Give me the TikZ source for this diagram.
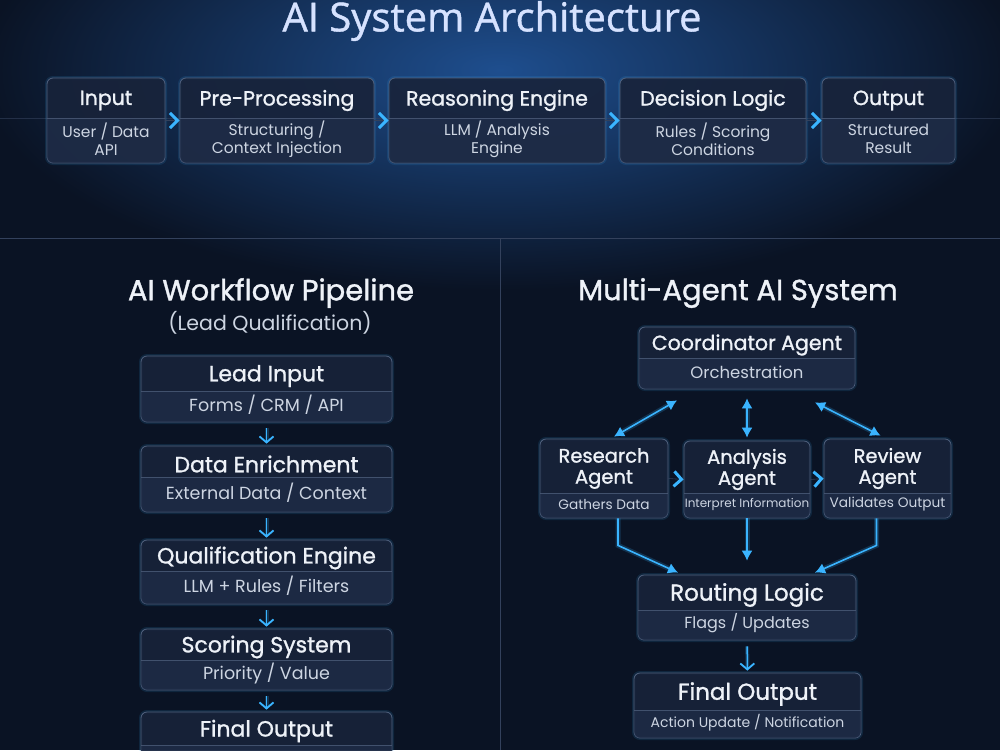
\documentclass[tikz,border=0pt]{standalone}
\usepackage{fontspec}
\setmainfont{Poppins}
\newfontfamily\medfont{Poppins}[FakeBold=1.2]
\newfontfamily\titlefont{Open Sans}[FakeBold=1]
\usetikzlibrary{arrows.meta,calc}
\definecolor{bg}{HTML}{0A1324}
\definecolor{glowblue}{HTML}{1E4E8E}
\definecolor{boxfill}{HTML}{18233A}
\definecolor{boxedge}{HTML}{52627F}
\definecolor{lowfillc}{HTML}{22314E}
\definecolor{ttlc}{HTML}{EEF2F8}
\definecolor{subc}{HTML}{CDD5E2}
\definecolor{cyanc}{HTML}{3AB4FF}
\definecolor{titlec}{HTML}{D6E2FF}
\definecolor{linec}{HTML}{33415C}
\newcommand\panel[8]{%
  \pgfmathsetmacro\pw{#4-#2}%
  \pgfmathsetmacro\ph{#5-#3}%
  \pgfmathsetmacro\pcx{(#2+#4)/2}%
  \pgfmathsetmacro\pcy{(#3+#5)/2}%
  \pgfmathsetmacro\pty{(#3+#6)/2+2.5}%
  \pgfmathsetmacro\psy{(#6+#5)/2-1.5}%
  \draw[boxglow] (#2,#3) rectangle (#4,#5);
  \node[panelbox, minimum width=\pw pt, minimum height=\ph pt] (#1) at (\pcx,\pcy) {};
  \begin{scope}
    \clip[rounded corners=6pt] (#2,#3) rectangle (#4,#5);
    \fill[lowfill] (#2,#6) rectangle (#4,#5);
  \end{scope}
  \draw[divline] (#2,#6) -- (#4,#6);
  \node[ttl] (#1-t) at (\pcx,\pty) {#7};
  \node[subt] (#1-s) at (\pcx,\psy) {#8};
}
\begin{document}
\begin{tikzpicture}[x=1pt,y=-1pt,
  panelbox/.style={draw=boxedge, line width=0.8pt, fill=boxfill, fill opacity=0.9, rounded corners=6pt, inner sep=0pt},
  boxglow/.style={draw=cyanc, line width=4pt, opacity=0.12, rounded corners=6pt},
  lowfill/.style={fill=lowfillc, fill opacity=0.55},
  divline/.style={draw=boxedge, line width=0.5pt, opacity=0.7},
  ttl/.style={text=ttlc, font=\medfont\fontsize{20.5}{22}\selectfont, align=center, inner sep=0pt},
  subt/.style={text=subc, font=\fontsize{15.5}{18}\selectfont, align=center, inner sep=0pt},
  sect/.style={text=ttlc, font=\medfont\fontsize{29}{32}\selectfont, inner sep=0pt},
  chev/.style={draw=linec, line width=0.6pt, -{Straight Barb[length=7.5pt,width=15pt,line width=3pt,color=cyanc]}},
  downarr/.style={draw=cyanc, line width=1.5pt, shorten <=6pt, shorten >=2pt, -{Straight Barb[length=6pt,width=14pt,line width=1.8pt]}, preaction={draw=cyanc, line width=4pt, opacity=0.2}},
  dblarr/.style={draw=cyanc, line width=1.6pt, {Latex[length=10pt,width=11pt]}-{Latex[length=10pt,width=11pt]}, preaction={draw=cyanc, line width=5pt, opacity=0.2}},
  onearr/.style={draw=cyanc, line width=1.6pt, -{Latex[length=10pt,width=11pt]}, preaction={draw=cyanc, line width=5pt, opacity=0.2}},
  sepline/.style={draw=linec, line width=0.8pt}
]
\clip (0,0) rectangle (1000,750);
\fill[bg] (0,0) rectangle (1000,750);
\shade[inner color=glowblue, outer color=bg] (500,70) ellipse (520 and 220);
\draw[sepline, opacity=0.6] (0,118) -- (1000,118);

% title
\node[font=\titlefont\fontsize{40}{44}\selectfont, text=titlec, inner sep=0pt] (title) at (492,21) {AI System Architecture};

% top row
\panel{in}{47}{78}{165}{163}{118}{Input}{User / Data\\API}
\panel{pre}{180}{78}{374}{163}{118}{Pre-Processing}{Structuring /\\Context Injection}
\panel{rea}{389}{78}{605}{163}{118}{Reasoning Engine}{LLM / Analysis\\Engine}
\panel{dec}{620}{78}{806}{163}{118}{Decision Logic}{Rules / Scoring\\Conditions}
\panel{out}{822}{78}{955}{163}{118}{Output}{Structured\\Result}
\draw[chev] (in.east) -- (pre.west);
\draw[chev] (pre.east) -- (rea.west);
\draw[chev] (rea.east) -- (dec.west);
\draw[chev] (dec.east) -- (out.west);

% separators
\draw[sepline] (0,238) -- (1000,238);
\draw[sepline] (500,238) -- (500,750);

% left section
\node[sect] (lsec) at (271,293) {AI Workflow Pipeline};
\node[text=subc, font=\fontsize{20.5}{22}\selectfont, inner sep=0pt] (lsub) at (270,323) {(Lead Qualification)};
\begin{scope}[ttl/.append style={font=\medfont\fontsize{22}{24}\selectfont}, subt/.append style={font=\fontsize{17.5}{20}\selectfont}]
\panel{lead}{141}{356}{392}{422}{391}{Lead Input}{Forms / CRM / API}
\panel{enr}{141}{446}{392}{512}{477}{Data Enrichment}{External Data / Context}
\panel{qual}{141}{540}{392}{604}{571}{Qualification Engine}{LLM + Rules / Filters}
\panel{score}{141}{629}{392}{690}{660}{Scoring System}{Priority / Value}
\panel{lfin}{141}{712}{392}{778}{745}{Final Output}{}
\end{scope}
\draw[downarr] (lead) -- (enr);
\draw[downarr] (enr) -- (qual);
\draw[downarr] (qual) -- (score);
\draw[downarr] (score) -- (lfin);

% right section
\node[sect] (rsec) at (738,293) {Multi-Agent AI System};
\begin{scope}[subt/.append style={font=\fontsize{16.5}{18}\selectfont}]
\panel{coord}{639}{327}{855}{389}{358}{Coordinator Agent}{Orchestration}
\end{scope}
\begin{scope}[ttl/.append style={font=\medfont\fontsize{19.5}{21}\selectfont}, subt/.append style={font=\fontsize{13.7}{14}\selectfont}]
\panel{res}{540}{439}{668}{518}{493}{Research\\Agent}{Gathers Data}
\panel{rev}{824}{439}{951}{518}{493}{Review\\Agent}{Validates Output}
\end{scope}
\begin{scope}[ttl/.append style={font=\medfont\fontsize{19.5}{21}\selectfont}, subt/.append style={font=\fontsize{12}{14}\selectfont}]
\panel{ana}{684}{441}{810}{518}{493}{Analysis\\Agent}{Interpret Information}
\end{scope}
\draw[chev] (res.east) -- (ana.west);
\draw[chev] (ana.east) -- (rev.west);
\draw[dblarr] ([xshift=10pt,yshift=2pt]res.north) -- ([xshift=-70pt,yshift=-11pt]coord.south);
\draw[dblarr] ([yshift=-9pt]coord.south) -- ([yshift=3pt]ana.north);
\draw[dblarr] ([xshift=-7pt,yshift=3pt]rev.north) -- ([xshift=68pt,yshift=-13pt]coord.south);

\begin{scope}[ttl/.append style={font=\medfont\fontsize{23}{25}\selectfont}, subt/.append style={font=\fontsize{16}{18}\selectfont}]
\panel{route}{638}{575}{856}{640}{610}{Routing Logic}{Flags / Updates}
\end{scope}
\begin{scope}[ttl/.append style={font=\medfont\fontsize{23}{25}\selectfont}, subt/.append style={font=\fontsize{14}{16}\selectfont}]
\panel{rfin}{634}{673}{861}{738}{710}{Final Output}{Action Update / Notification}
\end{scope}
\draw[onearr] ([xshift=14pt]res.south) -- ++(0,27) -- ([xshift=-69pt,yshift=2pt]route.north);
\draw[onearr, shorten >=14pt] (ana.south) -- (route.north);
\draw[onearr] ([xshift=-11pt]rev.south) -- ++(0,27) -- ([xshift=68pt,yshift=2pt]route.north);
\draw[downarr] (route) -- (rfin);
\end{tikzpicture}
\end{document}
